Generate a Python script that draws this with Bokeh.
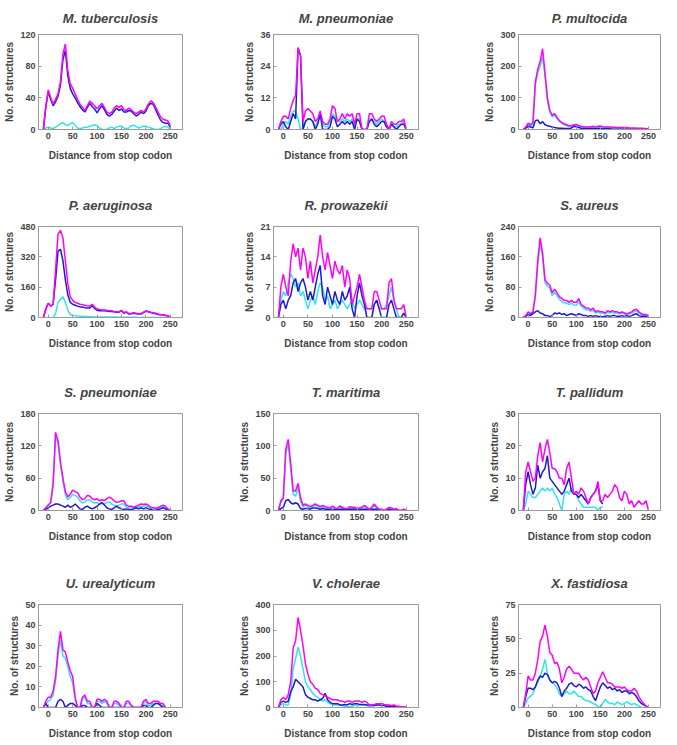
import numpy as np
from bokeh.plotting import figure
from bokeh.layouts import row, column
from bokeh.models import FixedTicker, Range1d
from bokeh.embed import file_html
from bokeh.resources import INLINE

nan = float("nan")

# distance from stop codon (common grid)
distance = list(range(-10, 251, 5))

species = ["M. tuberculosis", "M. pneumoniae", "P. multocida",
           "P. aeruginosa", "R. prowazekii", "S. aureus",
           "S. pneumoniae", "T. maritima", "T. pallidum",
           "U. urealyticum", "V. cholerae", "X. fastidiosa"]

y_max = [120, 36, 300, 480, 21, 240, 180, 150, 30, 50, 400, 75]
y_ticks = [[0, 40, 80, 120], [0, 12, 24, 36], [0, 100, 200, 300],
           [0, 160, 320, 480], [0, 7, 14, 21], [0, 80, 160, 240],
           [0, 60, 120, 180], [0, 50, 100, 150], [0, 10, 20, 30],
           [0, 10, 20, 30, 40, 50], [0, 100, 200, 300, 400], [0, 25, 50, 75]]
x_ticks = [0, 50, 100, 150, 200, 250]

# ---- M. tuberculosis ----
mtub_magenta = [0, 30, 50, 40, 32, 38, 45, 60, 95, 108,
                75, 58, 52, 45, 38, 32, 28, 24, 30, 36,
                33, 30, 26, 30, 33, 28, 22, 20, 22, 27,
                30, 28, 30, 25, 24, 27, 25, 22, 20, 22,
                24, 22, 26, 32, 36, 34, 28, 22, 16, 13,
                12, 11, 5]
mtub_blue = [0, 28, 48, 38, 30, 35, 42, 56, 88, 100,
             68, 52, 45, 40, 34, 29, 25, 22, 28, 33,
             29, 26, 21, 26, 30, 25, 19, 17, 19, 23,
             27, 24, 26, 22, 22, 24, 23, 20, 17, 19,
             22, 20, 23, 30, 33, 32, 25, 18, 12, 9,
             8, 8, 3]
mtub_cyan = [0, 2, 3, 2, 1, 3, 5, 7, 9, 6,
             5, 7, 9, 5, 2, 1, 2, 3, 3, 4,
             5, 6, 5, 2, 0, 0, 0, 2, 3, 1,
             3, 4, 4, 2, 1, 2, 5, 5, 4, 2,
             3, 4, 4, 3, 2, 1, 0, 0, 1, 3,
             4, 3, 0]

# ---- M. pneumoniae ----
mpne_magenta = [0, 3, 5, 5, 4, 8, 11, 13, 31, 28,
                3, 7, 8, 7, 6, 3, 4, 7, 3, 2,
                2, 4, 9, 8, 3, 4, 6, 4, 6, 5,
                6, 2, 6, 6, 0, 0, 0, 6, 6, 4,
                3, 4, 5, 5, 2, 0, 3, 2, 2, 3,
                3, 4, 0]
mpne_blue = [0, 2, 3, 1, 0, 3, 6, 4, 31, 28,
             0, 3, 4, 4, 3, 0, 2, 6, 0, 0,
             0, 1, 5, 4, 1, 2, 3, 2, 3, 2,
             3, 0, 4, 3, 0, 0, 0, 3, 4, 2,
             1, 2, 3, 3, 1, 0, 2, 1, 0, 1,
             2, 2, 0]
mpne_cyan = [0, 0, 2, 3, 2, 5, 7, 7, 4, 0,
             0, 3, 4, 4, 3, 1, 3, 5, 2, 1,
             1, 3, 6, 5, 3, 3, 4, 3, 4, 3,
             4, 1, 4, 4, 0, 0, 0, 4, 4, 3,
             2, 3, 4, 3, 1, 0, 2, 1, 1, 2,
             2, 3, 0]

# ---- P. multocida ----
pmul_magenta = [0, 8, 20, 15, 22, 150, 190, 215, 255, 180,
                100, 60, 45, 50, 38, 28, 22, 18, 15, 12,
                12, 15, 16, 13, 10, 9, 8, 8, 9, 10,
                8, 10, 11, 9, 8, 8, 8, 7, 7, 6,
                6, 6, 6, 6, 5, 5, 5, 4, 4, 4,
                3, 3, 2]
pmul_blue = [0, 4, 10, 8, 5, 28, 30, 18, 25, 15,
             12, 10, 8, 6, 5, 4, 4, 3, 3, 3,
             5, 10, 9, 6, 4, 3, 2, 2, 3, 3,
             2, 3, 4, 2, 2, 2, 2, 1, 1, 1,
             1, 1, 1, 1, 1, 1, 1, 1, 1, 1,
             1, 1, 0]
pmul_cyan = [0, 6, 15, 12, 15, 140, 180, 200, 230, 170,
             92, 55, 40, 45, 34, 25, 20, 15, 12, 10,
             10, 12, 13, 10, 8, 7, 6, 6, 7, 8,
             6, 8, 9, 7, 6, 6, 6, 5, 5, 4,
             4, 4, 4, 4, 3, 3, 3, 3, 3, 3,
             2, 2, 1]

# ---- P. aeruginosa ----
paer_magenta = [0, 45, 75, 60, 70, 250, 440, 460, 420, 300,
                180, 110, 90, 80, 75, 70, 68, 65, 62, 60,
                70, 55, 45, 42, 40, 40, 38, 35, 35, 32,
                30, 30, 38, 25, 30, 20, 22, 25, 22, 20,
                20, 28, 35, 32, 28, 25, 22, 18, 15, 15,
                12, 10, 0]
paer_blue = [0, 45, 75, 60, 70, 200, 350, 360, 300, 200,
             120, 80, 70, 65, 60, 56, 55, 52, 50, 50,
             62, 48, 38, 36, 35, 35, 34, 32, 32, 30,
             28, 28, 36, 22, 28, 18, 20, 22, 20, 18,
             18, 26, 33, 30, 26, 22, 20, 16, 14, 14,
             11, 9, 0]
paer_cyan = [nan, nan, nan, nan, 0, 20, 80, 95, 110, 80,
             40, 15, 12, 10, 8, 7, 6, 5, 5, 4,
             4, 3, 3, 2, 2, 2, 2, 2, 2, 2,
             2, 1, 1, 1, 1, 1, 1, 1, 1, 0,
             0, 0, 0, 0, 0, 0, 0, 0, 0, 0,
             0, 0, 0]

# ---- R. prowazekii ----
rpro_magenta = [0, 7, 10, 7, 5, 13, 17, 14, 16, 11,
                16, 14, 9, 13, 8, 11, 14, 19, 14, 11,
                15, 12, 9, 13, 11, 10, 12, 7, 11, 9,
                3, 5, 7, 10, 7, 4, 2, 2, 2, 6,
                6, 4, 2, 2, 2, 8, 9, 4, 2, 2,
                2, 3, 0]
rpro_blue = [0, 3, 4, 2, 4, 5, 8, 9, 6, 8,
             9, 7, 4, 6, 4, 7, 10, 12, 5, 3,
             7, 5, 3, 6, 4, 3, 6, 4, 5, 7,
             2, 0, 5, 8, 5, 3, 0, 0, 0, 3,
             4, 2, 0, 0, 0, 3, 4, 2, 0, 0,
             0, 1, 0]
rpro_cyan = [0, 4, 6, 5, 8, 10, 9, 7, 8, 5,
             6, 4, 2, 4, 5, 3, 6, 8, 7, 4,
             5, 2, 3, 4, 2, 3, 4, 3, 2, 3,
             4, 2, 3, 4, 3, 2, 2, 2, 2, 3,
             4, 2, 2, 2, 3, 5, 7, 4, 2, 0,
             0, 1, 0]

# ---- S. aureus ----
saur_magenta = [0, 5, 15, 10, 15, 60, 150, 210, 170, 100,
                90, 85, 65, 75, 65, 55, 50, 45, 45, 40,
                45, 40, 40, 50, 35, 30, 25, 25, 20, 25,
                15, 18, 15, 15, 12, 18, 15, 18, 15, 15,
                12, 15, 12, 10, 12, 15, 20, 22, 15, 10,
                8, 8, 5]
saur_blue = [0, 3, 8, 5, 10, 15, 18, 12, 10, 5,
             5, 3, 5, 12, 10, 12, 8, 10, 5, 8,
             10, 8, 5, 10, 8, 5, 5, 3, 5, 3,
             5, 3, 2, 2, 3, 5, 3, 5, 5, 3,
             3, 5, 3, 5, 3, 5, 8, 10, 5, 3,
             3, 2, 0]
saur_cyan = [0, 3, 10, 8, 12, 55, 140, 195, 160, 92,
             82, 78, 58, 66, 58, 48, 42, 38, 38, 34,
             38, 33, 32, 42, 30, 25, 20, 20, 16, 20,
             12, 14, 12, 12, 9, 14, 12, 14, 12, 12,
             10, 12, 10, 8, 10, 12, 15, 18, 12, 8,
             6, 6, 4]

# ---- S. pneumoniae ----
spne_magenta = [0, 5, 10, 15, 50, 145, 130, 90, 60, 35,
                25, 30, 38, 35, 33, 25, 20, 22, 28, 27,
                22, 20, 22, 18, 20, 18, 22, 25, 22, 18,
                15, 16, 18, 18, 10, 8, 8, 6, 8, 10,
                12, 11, 12, 10, 6, 5, 4, 5, 8, 10,
                8, 3, 0]
spne_blue = [0, 2, 5, 8, 10, 12, 12, 10, 8, 6,
             10, 6, 8, 12, 8, 3, 2, 6, 8, 5,
             3, 5, 8, 12, 15, 10, 5, 3, 2, 5,
             8, 5, 3, 2, 3, 2, 1, 3, 5, 3,
             5, 3, 5, 3, 2, 0, 0, 2, 3, 5,
             3, 1, 0]
spne_cyan = [0, 5, 10, 14, 48, 138, 125, 85, 55, 30,
             20, 24, 30, 28, 25, 18, 14, 16, 20, 20,
             16, 14, 15, 12, 13, 12, 15, 16, 12, 10,
             8, 10, 12, 12, 6, 5, 5, 4, 5, 7,
             8, 8, 9, 7, 4, 3, 2, 3, 5, 7,
             5, 2, 0]

# ---- T. maritima ----
tmar_magenta = [0, 15, 20, 95, 110, 72, 30, 30, 42, 20,
                8, 10, 8, 6, 8, 10, 8, 6, 8, 6,
                5, 4, 7, 4, 3, 7, 5, 3, 3, 6,
                5, 5, 3, 4, 5, 8, 5, 2, 5, 10,
                5, 2, 2, 0, 2, 5, 4, 2, 3, 0,
                0, 2, 0]
tmar_blue = [0, 3, 5, 15, 17, 12, 10, 12, 10, 3,
             2, 3, 3, 2, 4, 4, 3, 2, 3, 2,
             2, 1, 2, 1, 1, 2, 2, 1, 1, 2,
             2, 2, 1, 1, 2, 2, 2, 0, 2, 2,
             2, 0, 0, 0, 0, 2, 1, 0, 1, 0,
             0, 0, 0]
tmar_cyan = [0, 12, 18, 88, 102, 65, 25, 22, 35, 15,
             5, 8, 6, 4, 6, 8, 6, 4, 6, 4,
             3, 2, 5, 3, 2, 5, 3, 2, 2, 4,
             3, 3, 2, 3, 4, 6, 3, 1, 3, 8,
             3, 1, 1, 0, 1, 3, 2, 1, 2, 0,
             0, 1, 0]

# ---- T. pallidum ----
tpal_magenta = [0, 12, 15, 12, 9, 10, 17, 21, 15, 19,
                22, 18, 13, 13, 12, 10, 10, 8, 13, 15,
                10, 5, 6, 5, 7, 6, 4, 2, 4, 5,
                6, 9, 3, 3, 5, 4, 5, 6, 8, 7,
                4, 3, 6, 5, 2, 3, 1, 2, 3, 2,
                2, 3, 0]
tpal_blue = [0, 8, 12, 8, 5, 7, 14, 10, 12, 13,
             17, 10, 9, 8, 7, 6, 5, 6, 8, 10,
             6, 5, 5, 4, 5, 4, 3, 2, 4, 5,
             6, 8, 3, 2, nan, nan, nan, nan, nan, nan,
             nan, nan, nan, nan, nan, nan, nan, nan, nan, nan,
             nan, nan, nan]
tpal_cyan = [0, 2, 6, 5, 4, 4, 5, 6, 7, 6,
             7, 6, 7, 5, 4, 2, 0, 5, 6, 5,
             7, 5, 5, 3, 2, 1, 1, 1, 1, 1,
             1, 0, 1, 1, nan, nan, nan, nan, nan, nan,
             nan, nan, nan, nan, nan, nan, nan, nan, nan, nan,
             nan, nan, nan]

# ---- U. urealyticum ----
uure_magenta = [0, 3, 5, 5, 8, 15, 28, 37, 28, 27,
                22, 18, 15, 5, 0, 0, 5, 6, 3, 3,
                0, 0, 4, 4, 3, 4, 3, 0, 0, 3,
                3, 2, 0, 0, 3, 3, 1, 0, 0, 0,
                0, 3, 4, 2, 2, 3, 3, 3, 2, 2,
                0, nan, nan]
uure_blue = [0, 2, 0, 0, 0, 0, 3, 4, 3, 0,
             1, 2, 2, 1, 0, 0, 1, 1, 0, 0,
             0, 0, 2, 1, 0, 0, 0, 0, 0, 0,
             0, 0, 0, 0, 0, 0, 0, 0, 0, 0,
             0, 1, 1, 0, 0, 1, 2, 2, 1, 0,
             0, nan, nan]
uure_cyan = [0, 2, 3, 4, 6, 13, 25, 33, 25, 24,
             20, 15, 12, 4, 0, 0, 4, 5, 2, 2,
             0, 0, 3, 3, 2, 3, 2, 0, 0, 2,
             2, 1, 0, 0, 2, 2, 1, 0, 0, 0,
             0, 2, 3, 1, 1, 2, 2, 2, 1, 1,
             0, nan, nan]

# ---- V. cholerae ----
vcho_magenta = [0, 30, 40, 30, 50, 100, 230, 260, 350, 300,
                240, 170, 130, 100, 90, 75, 70, 55, 50, 45,
                40, 35, 30, 30, 30, 25, 25, 20, 25, 25,
                20, 25, 25, 25, 20, 25, 20, 10, 10, 12,
                15, 15, 15, 12, 10, 10, 8, 10, 5, 5,
                3, 3, 0]
vcho_blue = [0, 20, 25, 20, 25, 60, 80, 110, 100, 90,
             80, 50, 40, 35, 30, 30, 25, 30, 35, 55,
             30, 20, 15, 15, 15, 10, 10, 12, 10, 15,
             12, 15, 15, 12, 12, 12, 10, 10, 10, 8,
             10, 10, 8, 8, 5, 5, 5, 5, 3, 2,
             1, 1, 0]
vcho_cyan = [0, 10, 15, 10, 10, 50, 150, 190, 235, 200,
             150, 100, 80, 70, 55, 45, 40, 30, 25, 30,
             20, 15, 12, 10, 10, 10, 8, 5, 3, 3,
             5, 8, 10, 10, 10, 10, 8, 3, 5, 8,
             10, 12, 15, 12, 10, 8, 5, 5, 5, 3,
             2, 2, 0]

# ---- X. fastidiosa ----
xfas_magenta = [0, 10, 23, 20, 20, 25, 35, 48, 52, 60,
                52, 40, 38, 32, 33, 28, 18, 22, 28, 30,
                28, 25, 25, 25, 22, 20, 22, 20, 15, 10,
                12, 18, 22, 26, 22, 18, 18, 17, 15, 15,
                15, 14, 15, 13, 12, 12, 14, 12, 8, 5,
                3, 1, 0]
xfas_blue = [0, 8, 14, 14, 13, 15, 20, 23, 22, 25,
             24, 20, 18, 19, 18, 14, 8, 12, 14, 17,
             18, 16, 15, 17, 16, 14, 15, 13, 12, 8,
             5, 10, 15, 18, 16, 14, 15, 13, 14, 12,
             13, 11, 12, 12, 10, 11, 10, 8, 5, 3,
             2, 1, 0]
xfas_cyan = [0, 3, 7, 8, 10, 15, 18, 22, 28, 35,
             25, 20, 18, 17, 14, 10, 8, 10, 12, 10,
             10, 12, 10, 8, 8, 6, 5, 5, 4, 3,
             2, 1, 0, 3, 6, 4, 3, 3, 2, 4,
             3, 2, 3, 4, 3, 2, 3, 2, 1, 0,
             0, 0, 0]

series_magenta = [mtub_magenta, mpne_magenta, pmul_magenta, paer_magenta,
                  rpro_magenta, saur_magenta, spne_magenta, tmar_magenta,
                  tpal_magenta, uure_magenta, vcho_magenta, xfas_magenta]
series_blue = [mtub_blue, mpne_blue, pmul_blue, paer_blue,
               rpro_blue, saur_blue, spne_blue, tmar_blue,
               tpal_blue, uure_blue, vcho_blue, xfas_blue]
series_cyan = [mtub_cyan, mpne_cyan, pmul_cyan, paer_cyan,
               rpro_cyan, saur_cyan, spne_cyan, tmar_cyan,
               tpal_cyan, uure_cyan, vcho_cyan, xfas_cyan]

# ---- layout (page content starts at 0,0) ----
col_w = [232, 223, 222]
col_left = [38, 41, 63]
col_right = [50, 37, 17]
row_h = [182, 187, 191, 185]
row_top = [34, 44, 44, 44]
row_bottom = [53, 52, 50, 38]
title_standoff = [17, 27, 27, 27]

FONT = "Liberation Sans"
GREY = "#9a9a9a"
C_MAG = "#ff00ff"
C_BLUE = "#1c1cc8"
C_CYAN = "#33e3e8"
X_MIN, X_MAX = -20, 275


def style_axis(ax):
    ax.axis_label_text_font = FONT
    ax.axis_label_text_font_style = "bold"
    ax.axis_label_text_font_size = "10px"
    ax.major_label_text_font = FONT
    ax.major_label_text_font_style = "bold"
    ax.major_label_text_font_size = "9px"
    ax.axis_line_color = GREY
    ax.major_tick_line_color = GREY
    ax.major_tick_in = 3
    ax.major_tick_out = 0
    ax.minor_tick_line_color = None
    ax.major_label_standoff = 3


rows = []
for r in range(4):
    figs = []
    for c in range(3):
        i = r * 3 + c
        p = figure(width=col_w[c], height=row_h[r],
                   x_range=Range1d(X_MIN, X_MAX), y_range=Range1d(0, y_max[i]),
                   output_backend="svg", toolbar_location=None,
                   min_border_left=col_left[c], min_border_right=col_right[c],
                   min_border_top=row_top[r], min_border_bottom=row_bottom[r])
        p.title.text = species[i]
        p.title.text_font = FONT
        p.title.text_font_style = "bold italic"
        p.title.text_font_size = "13px"
        p.title.align = "center"
        p.title.standoff = title_standoff[r]
        p.grid.visible = False
        p.outline_line_color = GREY
        p.background_fill_color = "white"
        p.border_fill_color = "white"

        xs = np.array(distance, dtype=float)
        p.line(xs, np.array(series_cyan[i], dtype=float), line_color=C_CYAN, line_width=1.5)
        p.line(xs, np.array(series_blue[i], dtype=float), line_color=C_BLUE, line_width=1.5)
        p.line(xs, np.array(series_magenta[i], dtype=float), line_color=C_MAG, line_width=1.5)

        p.xaxis.ticker = FixedTicker(ticks=x_ticks)
        p.yaxis.ticker = FixedTicker(ticks=y_ticks[i])
        p.xaxis.axis_label = "Distance from stop codon"
        p.yaxis.axis_label = "No. of structures"
        style_axis(p.xaxis[0])
        style_axis(p.yaxis[0])
        p.xaxis.axis_label_standoff = 8
        p.yaxis.axis_label_standoff = 2
        figs.append(p)
    rows.append(row(*figs))

layout = column(*rows)
open("out.html", "w").write(file_html(layout, INLINE))
